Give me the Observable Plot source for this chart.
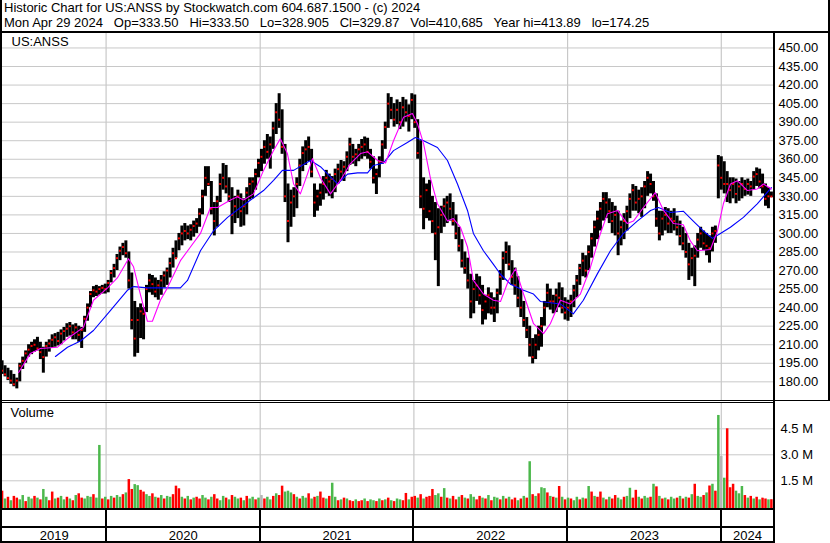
<!DOCTYPE html>
<html><head><meta charset="utf-8">
<script src="https://cdn.jsdelivr.net/npm/d3@7"></script>
<script src="https://cdn.jsdelivr.net/npm/@observablehq/plot@0.6"></script>
<style>
body{margin:0;background:#fff;}
#wrap{position:relative;width:830px;height:543px;overflow:hidden;font-family:"Liberation Sans",Arial,sans-serif;background:#fff;color:#000;}
.bl{position:absolute;background:#000;}
.hdr{position:absolute;left:4px;font-size:13px;line-height:12px;height:12px;white-space:pre;color:#000;}
.pl{position:absolute;left:0;}
</style></head><body><div id="wrap"></div>
<script>
// ---- data (weekly, starting week of 2019-04-29) ----
const startWeek = "2019-04-29";
const hi = [197,193,191,189,186,183,195,200,205,210,212,214,216,212,208,212,
214,218,219,220,222,224,227,228,226,227,225,224,233,243,253,
257,258,257,258,259,262,270,275,283,289,292,294,285,268,245,240,243,
240,258,267,266,264,262,266,269,272,280,288,294,300,306,308,306,307,310,312,320,335,
354,354,342,325,330,348,356.5,355,345,337,330,335,332,328,337,345,345,352,360,
368,375,380,378,390,405,413,400,372,340,335,337,345,360,370,375,378,
368,340,335,340,346,351,348,346,352,356,359,358,366,377,372,368,372,376,378,377,368,362,352,
362,375,390,413,410,405,408,406,410,408,404,413,412,392,375,345,340,343,330,325,320,
322,328,330,332,325,315,305,295,285,280,267,262,267,265,258,250,256,252,248,255,270,285,293,290,278,272,265,255,245,232,225,215,
218,225,232,245,259,255,250,255,260,256,248,246,250,258,266,275,284,282,290,300,310,318,325,333,333,
328,325,322,318,310,316,322,332,339.5,338,335,337,342,350,348,342,332,318,318,321,320,318,320,314,310,305,300,292,288,290,
300,305,302,300,298,305,306,363,362,358,350,345,345,344,342,345,343,344,342,350,353,352,348,340,337,333.5];
const lo = [186,184,181,178,176,174.3,180,190,195,200,202,204,205,198,187,200,
204,207,208,209,210,213,216,217,214,214,212,207,220,229,240,
248,249,250,251,251,252,260,264,270,278,282,280,255,222,200,203,215,
214,236,252,250,248,246,250,256,258,264,272,280,286,290,294,295,294,297,300,305,315,
330,338,315,298,305,325,335,332,325,299,308,312,305,306,315,327,328,335,345,
350,356,360,352,368,380,385,364,325,292.5,305,313,320,338,350,355,358,
345,313,318,322,327,332,330,328,333,340,343,342,350,355,356,354,358,360,362,360,352,340,331.5,
345,356,368,385,392,386,388,384,386,390,382,392,385,360,320,303,312,310,300,278,257,
300,305,308,310,306,295,285,272,267,255,231,235,245,242,226,230,235,234,228,235,250,262,275,270,258,250,240,232,224,215,200,194.5,
198,205,208,225,240,238,235,236,240,235,230,229,232,240,248,258,265,264,270,280,289,295,302,310,312,
308,300,298,282,290,295,302,312,318,318,316,313,320,330,332,326,305,294,298,302,300,300,302,298,290,286,280,262,265,257,
280,288,286,282,276,285,292,328,335,332,325,324,328,324,326,328,330,331,330,335,338,336,332,322,320,328.9];
const cl = [189,186,183,181,178,181,193,197,203,206,209,210,207,204,200,209,
211,214,216,213,219,221,223,225,220,224,218,222,231,240,251,
254,253,255,256,255,260,268,272,280,286,289,284,262,230,215,230,237,
235,255,262,259,253,258,262,266,270,276,284,280,296,300,302,300,303,306,308,316,330,
345,340,320,310,326,340,345,338,330,315,322,330,318,322,333,340,342,348,357,
362,370,366,372,385,398,392,370,330,310,325,330,340,355,365,368,370,
350,325,330,333,340,345,342,344,348,352,350,354,362,372,362,364,368,370,372,366,358,345,348,
358,372,386,405,400,392,400,390,402,398,395,408,390,365,330,320,335,318,310,300,305,
315,322,325,320,310,300,290,278,272,262,245,255,258,250,238,245,250,240,240,252,265,280,285,275,265,258,248,240,230,222,210,200,
210,218,225,240,252,245,245,250,248,240,236,240,245,254,262,272,278,270,285,296,305,312,320,328,325,
318,310,315,300,305,310,318,328,335,325,328,330,338,345,340,330,312,300,312,315,308,312,310,305,298,292,285,275,280,282,
295,300,292,290,288,300,302,355,345,340,340,335,340,332,338,340,336,340,338,346,348,342,338,328,330,329.87];
// volume, millions
const vol = [0.90,0.45,0.55,0.35,0.60,0.50,0.40,0.65,0.30,0.55,
0.45,0.60,0.50,0.40,1.00,0.55,0.35,0.85,0.45,0.50,
0.60,0.40,0.55,0.45,0.35,0.65,0.75,0.50,0.45,0.60,
0.55,0.70,0.50,3.54,0.45,0.55,0.40,0.60,0.50,0.65,
0.55,0.70,0.80,1.57,1.00,1.28,1.22,0.95,0.85,0.70,
0.60,0.75,0.55,0.50,0.65,0.45,0.60,0.55,0.70,1.19,
1.04,0.55,0.45,0.60,0.40,0.50,0.55,0.45,0.65,0.50,
0.40,0.55,0.70,0.45,0.35,0.60,0.50,0.40,0.65,0.55,
0.45,0.50,0.35,0.60,0.45,0.55,0.40,0.50,0.65,0.45,
0.55,0.40,0.60,0.75,0.65,1.19,0.85,0.90,0.80,0.70,
0.55,0.45,0.60,0.50,0.75,0.45,0.55,0.60,0.85,0.50,
0.45,0.60,1.36,0.55,0.35,0.40,0.50,0.45,0.35,0.30,
0.40,0.30,0.35,0.45,0.30,0.40,0.35,0.30,0.45,0.35,
0.40,0.50,0.35,0.30,0.45,0.40,0.35,0.77,0.40,0.55,
0.60,0.50,0.70,0.45,0.55,0.60,1.00,0.65,0.75,0.55,
1.05,0.50,0.45,0.60,0.40,0.55,0.65,0.50,0.45,0.70,
0.55,0.40,0.60,0.50,0.45,0.65,0.35,0.55,0.50,0.40,
0.60,0.45,0.55,0.40,0.50,0.35,0.45,0.60,0.50,2.60,
0.70,0.60,0.75,1.10,1.05,0.80,0.60,0.55,0.50,1.17,
0.55,0.40,0.50,0.45,0.35,0.55,0.40,0.50,0.45,1.17,
0.85,0.60,0.55,0.85,0.50,0.40,0.55,0.45,0.65,0.50,
0.40,0.55,0.60,1.07,0.50,0.95,0.55,0.45,0.60,0.50,
0.55,1.30,1.15,0.60,0.45,0.50,0.40,0.55,0.45,0.50,
0.60,0.45,0.55,0.50,0.70,1.30,0.60,0.55,0.65,0.80,
1.20,1.30,0.90,5.27,2.90,1.65,4.50,1.10,1.30,0.90,
0.75,1.17,0.65,0.50,0.60,0.45,0.55,0.40,0.50,0.45,0.40,0.41];
// 1 = up (green), 0 = down (red), 2 = unchanged (gray)
const volDir = [0,1,0,1,0,0,1,1,0,1,
1,0,1,0,1,1,0,0,1,0,
1,1,0,1,0,1,0,0,1,1,
1,0,1,1,0,1,0,1,0,1,
1,0,1,0,0,1,1,0,0,1,
1,0,1,0,1,0,1,1,0,0,
0,1,0,1,0,1,0,0,1,1,
0,1,0,0,1,1,0,1,0,1,
1,0,1,0,1,1,0,1,2,0,
1,1,0,1,0,0,1,1,1,0,
1,0,1,1,0,1,0,1,0,0,
1,0,1,1,0,1,0,1,0,0,
1,0,0,1,0,1,1,0,1,0,
1,0,1,0,1,1,0,0,1,0,
0,1,0,1,0,0,0,1,1,0,
1,0,1,0,0,1,0,1,0,1,
1,0,0,1,0,1,0,1,1,0,
1,0,1,0,0,1,0,1,0,1,
0,1,0,1,1,0,1,0,1,0,
1,0,1,0,1,1,0,1,0,1,
0,1,0,0,1,0,1,0,0,1,
1,0,1,1,0,0,1,0,1,1,
0,1,0,1,0,1,0,1,1,0,
1,0,1,0,1,0,1,1,0,1,
0,1,0,1,2,1,0,0,0,1,
1,1,0,1,0,1,0,1,0,0,1,0];
// moving averages (week index, value)
const maFastWk = [5.6,9.6,13.0,18.8,22.2,27.6,31.0,35.8,39.1,42.9,44.6,46.9,49.3,51.0,53.7,56.1,60.5,63.9,67.3,70.7,73.1,77.5,79.8,81.9,85.3,88.7,92.1,94.4,96.8,98.9,101.2,103.6,105.3,108.0,111.4,114.8,118.2,121.6,124.0,127.4,130.1,132.8,136.2,139.2,140.9,143.0,145.3,147.7,151.1,153.1,155.5,157.9,159.9,163.3,166.7,169.1,171.8,174.2,176.9,180.3,183.7,186.0,189.4,192.8,196.2,199.6,203.0,205.4,208.8,212.1,214.2,217.6,221.6,224.4,227.8,231.1,233.5,235.9,240.3,242.7,244.7,247.1,249.5,252.9,256.2,258.3,261.0];
const maFastVal = [187.5,203,207,208,215,224,246,256,264,279.6,273,251,229,229,246,256,278,289,300,321,321,327,329.6,327,332,351,367,376.6,364.6,340,332,348,360.5,345,332,343,356.5,364.6,366,359,357,375,394,397,389,372.6,345,324,310,312,305,289,262,251,246,245,262,271.5,251,227,219,227,246,243,251,272.5,300,316,318.6,308,310,321,333,318.6,308,307,294,286,287,302,324,340,342.6,334.7,336,340,336];
const maSlowWk = [18.1,22.2,26.6,31.0,36.8,42.5,44.6,49.3,60.5,62.9,67.3,71.7,76.5,80.9,84.3,88.7,92.1,95.1,98.9,104.6,108.0,113.8,117.2,120.6,124.0,126.0,129.4,132.8,137.5,140.2,143.0,147.7,151.1,154.5,157.9,159.9,163.3,166.7,169.1,172.5,176.9,180.3,182.6,189.4,193.8,197.2,202.0,206.4,210.8,215.5,220.0,222.7,226.7,231.1,234.5,237.9,241.0,243.7,247.1,251.5,256.2,261.0];
const maSlowVal = [200.5,208,213,221.5,237.7,254,257,256,256,262,286,302,313,321,327,334.7,343,351,351,359,354,340,348,349,349,355,357,367,373.6,377.6,375,369.5,359,340,318.6,300,286,275,267,259,254,251,245,243,235,246,267.5,286,300,310,318.6,321,317,318,310,302,296,300,305,313,324,337];
const priceTicks = [180,195,210,225,240,255,270,285,300,315,330,345,360,375,390,405,420,435,450];
const volTicks = [1.5,3.0,4.5];
const years = [2019,2020,2021,2022,2023,2024];
const titleLine1 = "Historic Chart for US:ANSS by Stockwatch.com 604.687.1500 - (c) 2024";
const titleLine2 = "Mon Apr 29 2024   Op=333.50   Hi=333.50   Lo=328.905   Cl=329.87   Vol=410,685   Year hi=413.89   lo=174.25";
const symbol = "US:ANSS";

// ---- build tables ----
const t0 = Date.parse(startWeek + "T00:00:00Z");
const wkDate = w => new Date(t0 + w * 7 * 864e5);
const bars = hi.map((h, i) => ({date: wkDate(i), hi: h, lo: lo[i], cl: cl[i], vol: vol[i], dir: volDir[i]}));
const fast = maFastWk.map((w, i) => ({date: wkDate(w), v: maFastVal[i]}));
const slow = maSlowWk.map((w, i) => ({date: wkDate(w), v: maSlowVal[i]}));
const xDomain = [new Date(Date.UTC(2019,3,30)), new Date(Date.UTC(2024,4,4))];
const yearStarts = years.slice(1).map(y => new Date(Date.UTC(y,0,1)));
const yearMid = years.map(y => {
  const a = Math.max(+xDomain[0], Date.UTC(y,0,1)), b = Math.min(+xDomain[1], Date.UTC(y+1,0,1));
  return {year: String(y), date: new Date((a + b) / 2)};
});
const font = {fontFamily: "Liberation Sans, Arial, sans-serif", fontSize: "13px", background: "transparent", color: "#000", overflow: "visible"};
const grid = "#c8c8c8";
const colorOf = d => d === 1 ? "#4cb84c" : d === 0 ? "#ff0000" : "#b4b4b4";

const wrap = document.getElementById("wrap");
function place(el, top) { el.classList.add("pl"); el.style.top = top + "px"; wrap.appendChild(el); }

// ---- price panel ----
const price = Plot.plot({
  width: 830, height: 367, marginLeft: 2, marginRight: 57, marginTop: 0, marginBottom: 0,
  style: font,
  x: {type: "utc", domain: xDomain, axis: null},
  y: {domain: [164.9, 461.7], axis: null},
  marks: [
    Plot.ruleY(priceTicks, {stroke: grid, strokeWidth: 1}),
    Plot.ruleX(yearStarts, {stroke: grid, strokeWidth: 1.2}),
    Plot.axisY(priceTicks, {anchor: "right", label: null, tickSize: 0, tickPadding: 5, tickFormat: d => d.toFixed(2), fontSize: 13}),
    Plot.ruleX(bars, {x: "date", y1: "lo", y2: "hi", stroke: "#000", strokeWidth: 3}),
    Plot.dot(bars, {x: "date", y: "cl", symbol: "square", r: 1.1, fill: "#ff0000", stroke: null}),
    Plot.line(slow, {x: "date", y: "v", stroke: "#0000ff", strokeWidth: 1.1}),
    Plot.line(fast, {x: "date", y: "v", stroke: "#ff00ff", strokeWidth: 1.1}),
    Plot.text([symbol], {text: d => d, frameAnchor: "top-left", dx: 9, dy: 3, lineAnchor: "top", textAnchor: "start", fontSize: 13})
  ]
});
place(price, 33);

// ---- volume panel ----
const volume = Plot.plot({
  width: 830, height: 106, marginLeft: 2, marginRight: 57, marginTop: 0, marginBottom: 0,
  style: font,
  x: {type: "utc", domain: xDomain, axis: null},
  y: {domain: [-0.156, 5.96], axis: null},
  marks: [
    Plot.ruleY(volTicks, {stroke: grid, strokeWidth: 1}),
    Plot.ruleX(yearStarts, {stroke: grid, strokeWidth: 1.2}),
    Plot.axisY(volTicks, {anchor: "right", label: null, tickSize: 0, tickPadding: 7, tickFormat: d => d.toFixed(1) + " M", fontSize: 13}),
    Plot.ruleX(bars, {x: "date", y1: -0.156, y2: "vol", stroke: d => colorOf(d.dir), strokeWidth: 2.5}),
    Plot.text(["Volume"], {text: d => d, frameAnchor: "top-left", dx: 8, dy: 4, lineAnchor: "top", textAnchor: "start", fontSize: 13})
  ]
});
place(volume, 403);

// ---- year labels ----
const yearAxis = Plot.plot({
  width: 830, height: 14, marginLeft: 2, marginRight: 57, marginTop: 0, marginBottom: 0,
  style: font,
  x: {type: "utc", domain: xDomain, axis: null},
  y: {domain: [0, 1], axis: null},
  marks: [
    Plot.text(yearMid, {x: "date", y: 0.5, text: "year", fontSize: 13, fill: "#000"})
  ]
});
place(yearAxis, 528);

// ---- header & frame ----
[[titleLine1, 2], [titleLine2, 17]].forEach(([t, top]) => {
  const d = document.createElement("div"); d.className = "hdr"; d.style.top = top + "px"; d.textContent = t; wrap.appendChild(d);
});
const xs = price.scale("x");
function line(l, t, w, h) { const d = document.createElement("div"); d.className = "bl"; Object.assign(d.style, {left: l + "px", top: t + "px", width: w + "px", height: h + "px"}); wrap.appendChild(d); }
line(0, 31, 830, 2);
line(0, 0, 2, 543);
line(828, 0, 2, 400);
line(773, 31, 2, 512);
line(0, 400, 830, 1);
line(0, 402, 773, 1);
line(0, 508, 775, 2);
line(0, 526, 775, 2);
line(0, 541, 775, 2);
yearStarts.forEach(d => line(Math.round(xs.apply(d)) - 1, 509, 2, 33));
</script></body></html>
